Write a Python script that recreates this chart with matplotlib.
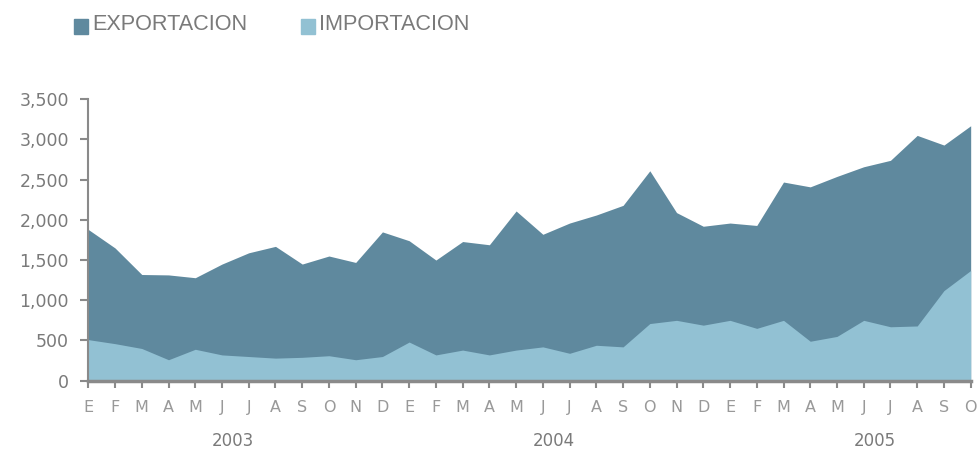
import matplotlib.pyplot as plt
from matplotlib.patches import Rectangle

# meses (E=enero ... D=diciembre), 2003-01 a 2005-10
meses = ['E', 'F', 'M', 'A', 'M', 'J', 'J', 'A', 'S', 'O', 'N', 'D'] * 2 + \
        ['E', 'F', 'M', 'A', 'M', 'J', 'J', 'A', 'S', 'O']
anios = ['2003', '2004', '2005']

exportacion = [1880, 1650, 1320, 1315, 1280, 1450, 1590, 1670, 1450, 1550, 1470, 1850,
               1740, 1500, 1730, 1690, 2110, 1820, 1960, 2060, 2180, 2610, 2090, 1920,
               1960, 1930, 2470, 2410, 2540, 2660, 2740, 3050, 2930, 3170]
importacion = [510, 460, 400, 260, 390, 320, 300, 280, 290, 310, 260, 300,
               480, 320, 380, 320, 380, 420, 340, 440, 420, 710, 750, 690,
               750, 650, 750, 490, 550, 750, 670, 680, 1120, 1370]

c_exp = '#5f899e'
c_imp = '#92c1d3'
gris = '#8a8a8a'

fig = plt.figure(figsize=(9.79, 4.51), dpi=100)
ax = fig.add_axes([0.0902, 0.156, 0.9013, 0.624])

x = list(range(len(meses)))
ax.fill_between(x, 0, exportacion, color=c_exp, linewidth=0)
ax.fill_between(x, 0, importacion, color=c_imp, linewidth=0)

ax.set_xlim(0, len(meses) - 1)
ax.set_ylim(0, 3500)
ax.set_yticks(range(0, 3501, 500))
ax.set_yticklabels([f'{v:,}' for v in range(0, 3501, 500)],
                   fontsize=12.5, color='#7a7a7a', family='DejaVu Sans')
ax.set_xticks(x)
ax.set_xticklabels(meses, fontsize=11.5, color='#999999', family='Liberation Sans Narrow')

for s in ['top', 'right']:
    ax.spines[s].set_visible(False)
ax.spines['left'].set_color(gris)
ax.spines['left'].set_linewidth(1.5)
ax.spines['bottom'].set_color(gris)
ax.spines['bottom'].set_linewidth(2.5)
ax.tick_params(axis='y', length=6, width=1.5, color=gris, pad=8)
ax.tick_params(axis='x', length=5, width=1.5, color=gris, pad=9)

# etiquetas de año debajo de los meses
for i, a in enumerate(anios):
    ax.text(5.4 + 12 * i, -0.215, a, transform=ax.get_xaxis_transform(),
            ha='center', va='center', fontsize=12, color='#7a7a7a', family='DejaVu Sans')

# leyenda arriba
for xr, lbl, c in [(0.0756, 'EXPORTACION', c_exp), (0.3075, 'IMPORTACION', c_imp)]:
    fig.add_artist(Rectangle((xr, 1 - 34 / 451), 14 / 979, 15 / 451,
                             transform=fig.transFigure, color=c))
    fig.text(xr + 18 / 979, 1 - 25 / 451, lbl, ha='left', va='center',
             fontsize=15.6, color='#7a7a7a', family='Liberation Sans')

fig.savefig('out.png', dpi=100)
